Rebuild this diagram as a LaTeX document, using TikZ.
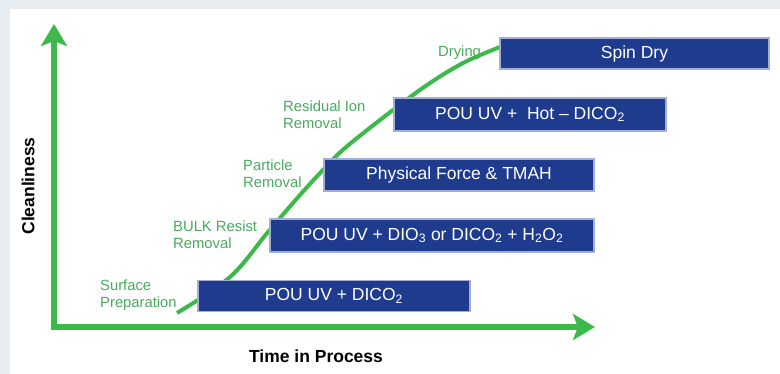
\documentclass[tikz,border=0pt]{standalone}
\usepackage{fontspec}
\setmainfont{Liberation Sans}
\usetikzlibrary{arrows.meta}
\definecolor{bgg}{HTML}{E8EDF1}
\definecolor{axg}{HTML}{3DB84B}
\definecolor{lbg}{HTML}{4AAA5E}
\definecolor{boxb}{HTML}{1E3B8E}
\definecolor{boxe}{HTML}{A4AED4}
\begin{document}
\begin{tikzpicture}[x=1pt,y=-1pt,
  stepbox/.style={fill=boxb, draw=boxe, line width=1.8pt, text=white, font=\fontsize{17.5}{20}\selectfont, inner sep=0pt, anchor=center},
  glabel/.style={text=lbg, font=\fontsize{14.8}{16.5}\selectfont, align=left, anchor=north west, inner sep=0pt},
  axisline/.style={draw=axg, line width=6pt, line join=miter},
  alabel/.style={font=\bfseries\fontsize{17.5}{20}\selectfont, inner sep=0pt}]
\fill[bgg] (0,0) rectangle (780,374);
\fill[white] (10,9) rectangle (780,374);
\useasboundingbox (0,0) rectangle (780,374);
% axes
\coordinate (o) at (54,327);
\coordinate (ytip) at (54,24);
\coordinate (xtip) at (595,327);
\draw[axisline, {Stealth[length=22pt,width=26pt,inset=5pt]}-{Stealth[length=22pt,width=26pt,inset=5pt]}] (ytip) -- (o) -- (xtip);
% curve
\coordinate (cs) at (177,313);
\coordinate (ce) at (500,47);
\draw[axg, line width=4pt] plot[smooth, tension=0.6] coordinates {(cs) (230,277) (268,232) (300,195) (323,170) (345,148) (393,110) (430,83) (465,62) (ce)};
% boxes
\node[stepbox, minimum width=272pt, minimum height=31pt] (b1) at (334,296) {POU UV + DICO\textsubscript{2}};
\node[stepbox, minimum width=324pt, minimum height=33pt] (b2) at (432,235.5) {POU UV + DIO\textsubscript{3} or DICO\textsubscript{2} + H\textsubscript{2}O\textsubscript{2}};
\node[stepbox, minimum width=270pt, minimum height=32pt] (b3) at (459,175) {Physical Force \& TMAH};
\node[stepbox, minimum width=272pt, minimum height=33pt] (b4) at (530,114.5) {POU UV +\ \ Hot -- DICO\textsubscript{2}};
\node[stepbox, minimum width=269pt, minimum height=31pt] (b5) at (634.5,53.5) {Spin Dry};
% labels
\node[glabel] (l1) at (100,280) {Surface\\Preparation};
\node[glabel] (l2) at (173,221) {BULK Resist\\Removal};
\node[glabel] (l3) at (243,160) {Particle\\Removal};
\node[glabel] (l4) at (283,101) {Residual Ion\\Removal};
\node[glabel] (l5) at (438,46) {Drying};
% axis labels
\node[alabel, rotate=90] (yl) at (28,186) {Cleanliness};
\node[alabel] (xl) at (316,356) {Time in Process};
\end{tikzpicture}
\end{document}
